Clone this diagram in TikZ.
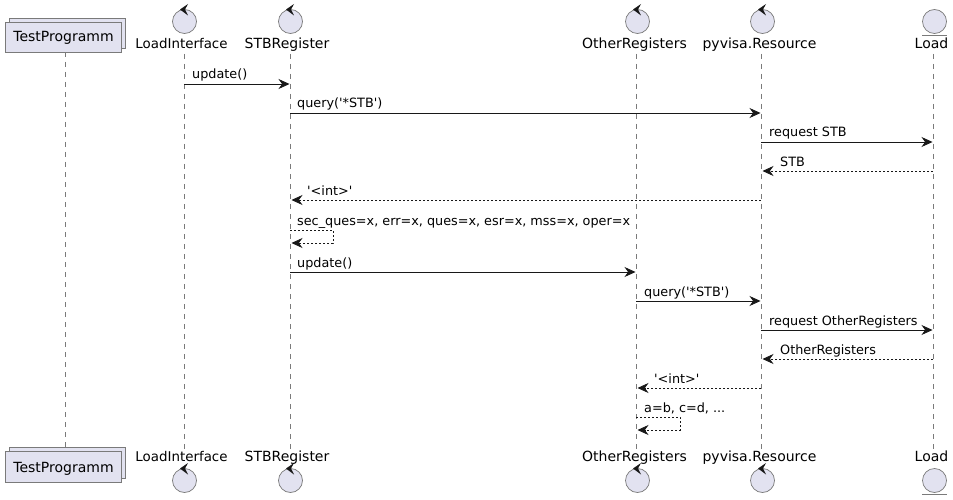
\documentclass[tikz,border=0pt]{standalone}
\usepackage{fontspec}
\setmainfont{DejaVu Sans}[Ligatures=TeXOff]
\usetikzlibrary{arrows.meta}
\definecolor{pfill}{HTML}{E2E2F0}
\definecolor{ink}{HTML}{181818}
\definecolor{edge}{HTML}{7A7A7A}
\tikzset{
 x=1pt,y=-1pt,
 msg/.style={draw=ink,line width=0.8pt,-{Stealth[length=11pt,width=10pt,inset=3.6pt,fill=ink]}},
 ret/.style={msg,dash pattern=on 2pt off 2pt},
 life/.style={draw=edge,line width=0.6pt,dash pattern=on 5pt off 5pt},
 pbox/.style={draw=edge,fill=pfill,line width=0.7pt},
 pname/.style={inner sep=0pt,anchor=base,font=\fontsize{14}{14}\selectfont,text=black},
 mtext/.style={inner sep=0pt,anchor=base west,font=\fontsize{12.8}{13}\selectfont,text=black},
 ball/.style={circle,draw=edge,fill=pfill,line width=0.7pt,minimum size=24pt,inner sep=0pt},
 baseline rule/.style={draw=edge,line width=0.7pt},
}
\newcommand{\ctrl}[3]{% name, x, y
 \node[ball] (#1) at (#2,#3) {};
 \fill[ink] (#2-4.5,#3-12) -- (#2+3.5,#3-17.5) -- (#2+0.5,#3-12) -- (#2+3.5,#3-6) -- cycle;
}
\begin{document}
\begin{tikzpicture}
\useasboundingbox (0,0) rectangle (953,500);
\fill[white] (0,0) rectangle (953,500);
% lifelines
\draw[life] (65,52) coordinate (tp) -- (65,447) coordinate (tpb);
\draw[life] (184,54) coordinate (li) -- (184,450) coordinate (lib);
\draw[life] (290,54) coordinate (st) -- (290,450) coordinate (stb);
\draw[life] (636,54) coordinate (ot) -- (636,450) coordinate (otb);
\draw[life] (761,54) coordinate (py) -- (761,450) coordinate (pyb);
\draw[life] (933,54) coordinate (lo) -- (933,450) coordinate (lob);
% top participants
\draw[pbox] (9.5,18.5) rectangle (125.5,48);
\draw[pbox] (5.5,22.5) rectangle (121.5,52);
\node[pname] (t1) at (63.5,42) {TestProgramm};
\ctrl{c1}{184.5}{21.5}\node[pname,font=\fontsize{13.4}{14}\selectfont] (n1) at (181.5,49) {LoadInterface};
\ctrl{c2}{290.5}{21.5}\node[pname] (n2) at (287,49) {STBRegister};
\ctrl{c3}{637.5}{21.5}\node[pname] (n3) at (634.5,49) {OtherRegisters};
\ctrl{c4}{762.5}{21.5}\node[pname] (n4) at (759.5,49) {pyvisa.Resource};
\node[ball] (c5) at (934.5,21.5) {};\draw[baseline rule] (922,35) -- (947,35);
\node[pname] (n5) at (931.5,49) {Load};
% bottom participants
\draw[pbox] (9.5,447.5) rectangle (125.5,478);
\draw[pbox] (5.5,451.5) rectangle (121.5,482);
\node[pname] (t1b) at (63.5,472) {TestProgramm};
\ctrl{d1}{184.5}{480.5}\node[pname,font=\fontsize{13.4}{14}\selectfont] (m1) at (181.5,461) {LoadInterface};
\ctrl{d2}{290.5}{480.5}\node[pname] (m2) at (287,461) {STBRegister};
\ctrl{d3}{637.5}{480.5}\node[pname] (m3) at (634.5,461) {OtherRegisters};
\ctrl{d4}{762.5}{480.5}\node[pname] (m4) at (759.5,461) {pyvisa.Resource};
\node[ball] (d5) at (934.5,480.5) {};\draw[baseline rule] (922,494) -- (947,494);
\node[pname] (m5) at (931.5,461) {Load};
% messages
\draw[msg] (184,84) -- (289.5,84); \node[mtext] (a1) at (192,79) {update()};
\draw[msg] (290,113) -- (760.5,113); \node[mtext] (a2) at (297,108) {query('*STB')};
\draw[msg] (761,142) -- (932.5,142); \node[mtext] (a3) at (769,137) {request STB};
\draw[ret] (933,171) -- (762.5,171); \node[mtext] (a4) at (780,166) {STB};
\draw[ret] (761,200) -- (291.5,200); \node[mtext] (a5) at (307,195) {'<int>'};
\draw[ret] (290,230) -- (333,230) -- (333,243) -- (291.5,243); \node[mtext] (a6) at (297,225) {sec\_ques=x, err=x, ques=x, esr=x, mss=x, oper=x};
\draw[msg] (290,272) -- (635.5,272); \node[mtext] (a7) at (297,267) {update()};
\draw[msg] (636,301) -- (760.5,301); \node[mtext] (a8) at (644,296) {query('*STB')};
\draw[msg] (761,330) -- (932.5,330); \node[mtext] (a9) at (769,325) {request OtherRegisters};
\draw[ret] (933,359) -- (762.5,359); \node[mtext] (a10) at (780,354) {OtherRegisters};
\draw[ret] (761,388) -- (637.5,388); \node[mtext] (a11) at (654,383) {'<int>'};
\draw[ret] (636,417) -- (680,417) -- (680,430) -- (637.5,430); \node[mtext] (a12) at (644,412) {a=b, c=d, ...};
\end{tikzpicture}
\end{document}
